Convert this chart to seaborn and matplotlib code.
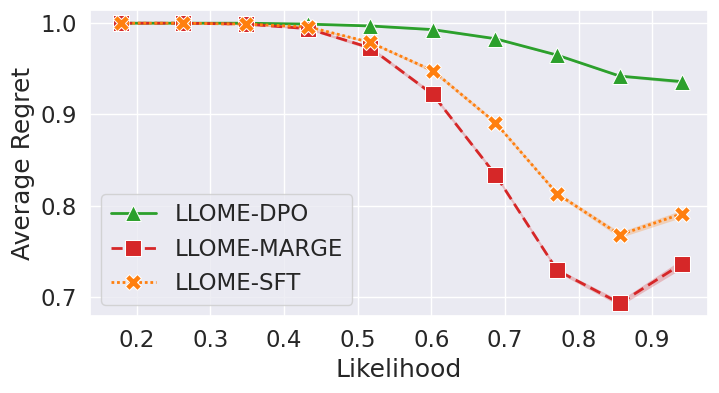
import numpy as np
import pandas as pd
import seaborn as sns
import matplotlib
matplotlib.use("Agg")
import matplotlib.pyplot as plt
from matplotlib.ticker import MultipleLocator

# likelihood levels (x axis)
likelihood = [0.179, 0.263, 0.348, 0.433, 0.517, 0.602, 0.687, 0.771, 0.856, 0.940]

# average regret per method
dpo = [1.000, 1.000, 1.000, 0.999, 0.997, 0.993, 0.983, 0.965, 0.942, 0.936]
marge = [1.000, 1.000, 0.999, 0.994, 0.973, 0.922, 0.834, 0.729, 0.693, 0.736]
sft = [1.000, 1.000, 0.999, 0.996, 0.979, 0.948, 0.891, 0.813, 0.768, 0.791]

# half width of the confidence band
dpo_ci = [0.0, 0.0, 0.0, 0.0005, 0.001, 0.001, 0.001, 0.001, 0.001, 0.002]
marge_ci = [0.0, 0.0, 0.0005, 0.001, 0.002, 0.002, 0.002, 0.002, 0.003, 0.005]
sft_ci = [0.0, 0.0, 0.0005, 0.001, 0.001, 0.002, 0.002, 0.002, 0.003, 0.004]

methods = ["LLOME-DPO", "LLOME-MARGE", "LLOME-SFT"]
colors = {"LLOME-DPO": "#2ca02c", "LLOME-MARGE": "#d62728", "LLOME-SFT": "#ff7f0e"}
markers = {"LLOME-DPO": "^", "LLOME-MARGE": "s", "LLOME-SFT": "X"}
dashes = {"LLOME-DPO": "", "LLOME-MARGE": (4, 2), "LLOME-SFT": (1, 1)}

df = pd.concat([
    pd.DataFrame({"Likelihood": likelihood, "Average Regret": vals, "ci": ci, "method": m})
    for m, vals, ci in zip(methods, [dpo, marge, sft], [dpo_ci, marge_ci, sft_ci])
])

sns.set_theme(style="darkgrid", font_scale=1.5)
fig, ax = plt.subplots(figsize=(7.19, 3.93), dpi=100)

for m in methods:
    d = df[df.method == m]
    ax.fill_between(d["Likelihood"], d["Average Regret"] - d["ci"],
                    d["Average Regret"] + d["ci"], color=colors[m], alpha=0.25, lw=0)

sns.lineplot(data=df, x="Likelihood", y="Average Regret", hue="method", style="method",
             palette=colors, markers=markers, dashes=dashes, markersize=11,
             linewidth=2, ax=ax)

ax.set_xlim(0.1365, 0.976)
ax.set_ylim(0.679, 1.0145)
ax.xaxis.set_major_locator(MultipleLocator(0.1))
ax.yaxis.set_major_locator(MultipleLocator(0.1))
ax.legend(loc="lower left", title=None)
fig.subplots_adjust(left=0.125, right=0.985, top=0.9746, bottom=0.196)
fig.savefig("out.png", dpi=100)
